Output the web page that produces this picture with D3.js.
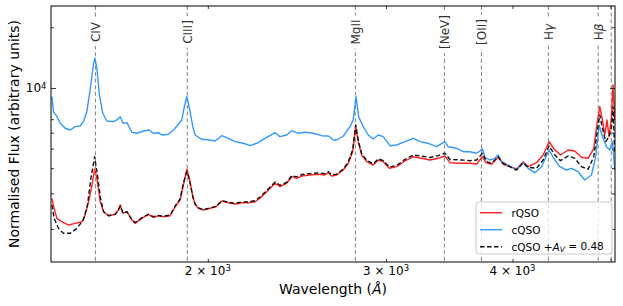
<!DOCTYPE html>
<html>
<head>
<meta charset="utf-8">
<script src="https://cdn.jsdelivr.net/npm/d3@7"></script>
<style>
  body { margin: 0; background: #fff; }
  svg text { font-family: "DejaVu Sans", sans-serif; }
</style>
</head>
<body>
<svg id="chart"></svg>
<script>
let width = 623, height = 306;
let margin = {top: 6, right: 8, bottom: 44, left: 51};

// emission lines marked on the spectrum
const lineNames = ["CIV", "CIII]", "MgII", "[NeV]", "[OII]", "Hγ", "Hβ", ""];
const lineWaves = [1549, 1909, 2798, 3426, 3727, 4340, 4861, 5007];

// composite spectra, [wavelength (Å), flux]
const rqso = [[1403,2836],[1410,2529],[1419,2256],[1435,2170],[1457,2090],[1479,2131],[1502,2170],[1513,2343],[1525,2727],[1537,3301],[1546,3963],[1554,3563],[1566,2727],[1578,2433],[1596,2324],[1620,2362],[1632,2481],[1639,2627],[1649,2389],[1664,2433],[1683,2213],[1695,2131],[1721,2256],[1747,2362],[1767,2282],[1788,2324],[1808,2297],[1836,2324],[1857,2576],[1878,2781],[1892,3301],[1907,3950],[1918,3563],[1933,2888],[1943,2648],[1958,2529],[1980,2481],[2010,2529],[2038,2576],[2065,2749],[2096,2696],[2128,2657],[2161,2696],[2193,2696],[2227,2727],[2252,2836],[2287,3057],[2331,3366],[2357,3237],[2393,3366],[2421,3629],[2448,3563],[2476,3658],[2523,3700],[2572,3730],[2611,3700],[2631,3799],[2651,3658],[2681,3700],[2722,3918],[2753,4230],[2781,4829],[2800,6426],[2816,5414],[2838,4651],[2871,4308],[2914,4148],[2947,4392],[2981,4308],[3022,3995],[3073,4069],[3132,4342],[3191,4561],[3253,4478],[3315,4392],[3378,4478],[3430,4598],[3469,4259],[3535,4230],[3603,4230],[3630,4230],[3686,4196],[3736,4561],[3765,4259],[3814,4182],[3871,4530],[3916,4182],[3976,4069],[4037,3963],[4098,4308],[4144,4069],[4224,4259],[4288,4651],[4347,5414],[4404,4924],[4461,4651],[4539,4924],[4608,4868],[4679,4530],[4750,4478],[4812,5021],[4848,6681],[4878,8076],[4908,6937],[4933,5844],[4959,6937],[4982,5732],[5009,7073],[5027,10350],[5047,6937]];

const cqso = [[1403,9054],[1408,7627],[1419,7204],[1430,6681],[1446,6310],[1463,6188],[1479,6426],[1496,6478],[1507,6804],[1519,7627],[1531,9966],[1540,12520],[1547,14040],[1554,12520],[1563,9231],[1575,7489],[1590,6859],[1614,6804],[1626,6937],[1639,7204],[1649,6681],[1664,6727],[1683,6028],[1702,5959],[1728,6118],[1750,6188],[1767,5959],[1788,6000],[1801,5844],[1829,5891],[1850,6188],[1871,6605],[1885,6937],[1896,8076],[1907,9054],[1918,7930],[1933,6426],[1943,5844],[1973,5564],[2010,5520],[2033,5457],[2065,5798],[2096,5628],[2128,5414],[2169,5316],[2202,5172],[2236,5316],[2278,5628],[2331,6000],[2357,5732],[2393,5844],[2421,6139],[2457,5959],[2495,6028],[2542,5959],[2591,5798],[2631,5778],[2661,5520],[2681,5520],[2722,5778],[2764,6426],[2784,6937],[2802,9054],[2819,7204],[2848,6426],[2881,5844],[2914,5584],[2947,5844],[2981,5732],[3027,5172],[3073,5213],[3132,5414],[3191,5628],[3240,5414],[3302,5316],[3366,5113],[3430,5414],[3455,5113],[3522,5021],[3575,4829],[3630,4829],[3686,4742],[3736,4981],[3756,4530],[3799,4392],[3842,4478],[3871,4651],[3901,4308],[3960,4148],[4037,3918],[4098,4259],[4144,3995],[4208,3799],[4273,4069],[4347,4924],[4404,4392],[4454,4069],[4522,3918],[4574,3995],[4643,3843],[4714,3495],[4787,3700],[4834,4561],[4870,6552],[4908,5732],[4953,5113],[4990,4924],[5021,5414],[5047,3918]];

const cqsoReddened = [[1403,2627],[1410,2256],[1424,2013],[1440,1901],[1463,1901],[1485,2013],[1507,2213],[1521,2627],[1533,3563],[1546,4561],[1556,3700],[1568,2781],[1578,2433],[1596,2324],[1620,2362],[1632,2481],[1639,2600],[1649,2389],[1664,2433],[1683,2213],[1695,2150],[1721,2270],[1747,2362],[1767,2297],[1788,2330],[1808,2310],[1836,2340],[1857,2600],[1878,2820],[1892,3380],[1907,3850],[1918,3500],[1933,2888],[1943,2660],[1958,2540],[1980,2490],[2010,2540],[2038,2590],[2065,2760],[2096,2710],[2128,2680],[2161,2720],[2193,2720],[2227,2760],[2252,2880],[2287,3100],[2331,3420],[2357,3290],[2393,3400],[2421,3680],[2448,3620],[2476,3720],[2523,3760],[2572,3790],[2611,3760],[2631,3840],[2651,3700],[2681,3740],[2722,3960],[2753,4300],[2781,4950],[2800,6552],[2816,5500],[2838,4720],[2871,4380],[2914,4200],[2947,4450],[2981,4360],[3022,4050],[3073,4130],[3132,4420],[3191,4650],[3253,4590],[3315,4520],[3378,4620],[3430,4750],[3469,4420],[3535,4400],[3603,4380],[3630,4357],[3686,4392],[3736,4742],[3771,4308],[3814,4230],[3871,4561],[3916,4230],[3976,4069],[4037,3918],[4098,4259],[4144,4041],[4224,3995],[4288,4392],[4347,5154],[4404,4651],[4461,4357],[4539,4598],[4608,4478],[4679,4069],[4750,3950],[4812,4561],[4848,6000],[4878,7346],[4908,6310],[4945,5414],[4982,5732],[5009,6310],[5027,8076],[5047,4758]];

// ticks
const xTicks = [2000, 3000, 4000, 5000];
const xTickMantissa = ["2", "3", "4", ""];
const yTicksMajor = [10000];
const yTicksMinor = [2000, 3000, 4000, 5000, 6000, 7000, 20000];

const series = [
  {name: "rQSO", data: rqso, color: "#ff2020", dash: null},
  {name: "cQSO", data: cqso, color: "#3399ff", dash: null},
  {name: "cQSO +", data: cqsoReddened, color: "#111", dash: "4.5,2.5"}
];

let svg = d3.select("#chart")
  .attr("width", width)
  .attr("height", height);

let x = d3.scaleLog()
  .domain([1400, 5050])
  .range([margin.left, width - margin.right]);

let y = d3.scaleLog()
  .domain([1370, 25500])
  .range([height - margin.bottom, margin.top]);

svg.append("clipPath").attr("id", "plot")
  .append("rect")
  .attr("x", margin.left).attr("y", margin.top)
  .attr("width", width - margin.left - margin.right)
  .attr("height", height - margin.top - margin.bottom);

// dashed vertical lines for emission lines
svg.append("g")
  .selectAll("line")
  .data(lineWaves)
  .join("line")
  .attr("x1", d => x(d)).attr("x2", d => x(d))
  .attr("y1", margin.top).attr("y2", height - margin.bottom)
  .attr("stroke", "#8c8c8c")
  .attr("stroke-width", 1.1)
  .attr("stroke-dasharray", "4,2.6");

let line = d3.line()
  .x(d => x(d[0]))
  .y(d => y(d[1]));

svg.append("g")
  .attr("clip-path", "url(#plot)")
  .selectAll("path")
  .data(series)
  .join("path")
  .attr("d", d => line(d.data))
  .attr("fill", "none")
  .attr("stroke", d => d.color)
  .attr("stroke-width", 1.4)
  .attr("stroke-linejoin", "round")
  .attr("stroke-dasharray", d => d.dash);

// line labels with a white box behind them
let labels = svg.append("g");
lineNames.forEach(function(name, i) {
  if (!name) return;
  let g = labels.append("g")
    .attr("transform", `translate(${x(lineWaves[i]) + 4.3},32) rotate(-90)`);
  let bg = g.append("rect").attr("fill", "#fff");
  let t = g.append("text")
    .attr("text-anchor", "middle")
    .attr("font-size", 12)
    .attr("fill", "#333");
  if (name[0] == "H") {
    t.append("tspan").text("H");
    t.append("tspan").attr("font-style", "italic").text(name.slice(1));
  } else {
    t.text(name);
  }
  let b = t.node().getBBox();
  bg.attr("x", b.x - 4).attr("y", b.y - 1)
    .attr("width", b.width + 8).attr("height", b.height + 2);
});

// axes, ticks pointing inward
let axisG = svg.append("g");
function addAxis(axis, transform, ticks, size) {
  let g = axisG.append("g")
    .attr("transform", transform)
    .call(axis.tickValues(ticks).tickSize(-size).tickSizeOuter(0).tickFormat(""));
  g.select(".domain").remove();
  g.selectAll(".tick line").attr("stroke", "#000").attr("stroke-width", 0.8);
}
let bottom = height - margin.bottom, right = width - margin.right;
addAxis(d3.axisBottom(x), `translate(0,${bottom})`, xTicks, 3);
addAxis(d3.axisTop(x), `translate(0,${margin.top})`, xTicks, 3);
addAxis(d3.axisLeft(y), `translate(${margin.left},0)`, yTicksMajor, 5);
addAxis(d3.axisLeft(y), `translate(${margin.left},0)`, yTicksMinor, 3);
addAxis(d3.axisRight(y), `translate(${right},0)`, yTicksMajor, 5);
addAxis(d3.axisRight(y), `translate(${right},0)`, yTicksMinor, 3);

svg.append("rect")
  .attr("x", margin.left).attr("y", margin.top)
  .attr("width", right - margin.left)
  .attr("height", bottom - margin.top)
  .attr("fill", "none")
  .attr("stroke", "#000")
  .attr("stroke-width", 1);

// tick labels
xTicks.forEach(function(v, i) {
  if (!xTickMantissa[i]) return;
  let t = svg.append("text")
    .attr("x", x(v)).attr("y", bottom + 13)
    .attr("text-anchor", "middle")
    .attr("font-size", 12);
  t.append("tspan").text(xTickMantissa[i] + " × 10");
  t.append("tspan").attr("dy", "-0.45em").attr("font-size", 8.5).text("3");
});
yTicksMajor.forEach(function(v) {
  let t = svg.append("text")
    .attr("x", margin.left - 4.5).attr("y", y(v) + 4.5)
    .attr("text-anchor", "end")
    .attr("font-size", 12);
  t.append("tspan").text("10");
  t.append("tspan").attr("dy", "-0.45em").attr("font-size", 8.5).text("4");
});

// axis titles
let xt = svg.append("text")
  .attr("x", (margin.left + right) / 2).attr("y", 294)
  .attr("text-anchor", "middle")
  .attr("font-size", 14);
xt.append("tspan").text("Wavelength (");
xt.append("tspan").attr("font-style", "italic").text("Å");
xt.append("tspan").text(")");

svg.append("text")
  .attr("transform", `translate(18.5,${(margin.top + bottom) / 2}) rotate(-90)`)
  .attr("text-anchor", "middle")
  .attr("font-size", 14)
  .text("Normalised Flux (arbitrary units)");

// legend
let legend = svg.append("g").attr("transform", "translate(476,202)");
legend.append("rect")
  .attr("width", 136).attr("height", 52)
  .attr("rx", 3)
  .attr("fill", "#fff").attr("fill-opacity", 0.8)
  .attr("stroke", "#cccccc").attr("stroke-width", 1);

series.forEach(function(s, i) {
  let ly = 10.7 + i * 17;
  legend.append("line")
    .attr("x1", 4).attr("x2", 26)
    .attr("y1", ly).attr("y2", ly)
    .attr("stroke", s.color)
    .attr("stroke-width", 1.4)
    .attr("stroke-dasharray", s.dash);
  let t = legend.append("text")
    .attr("x", 35.5).attr("y", ly + 3.8)
    .attr("font-size", 10.5);
  t.append("tspan").text(s.name);
  if (i == 2) {
    t.append("tspan").attr("font-style", "italic").text("A");
    t.append("tspan").attr("font-style", "italic").attr("font-size", 7.5).attr("dy", "0.25em").text("V");
    t.append("tspan").attr("dy", "-0.25em").text(" = 0.48");
  }
});
</script>
</body>
</html>
